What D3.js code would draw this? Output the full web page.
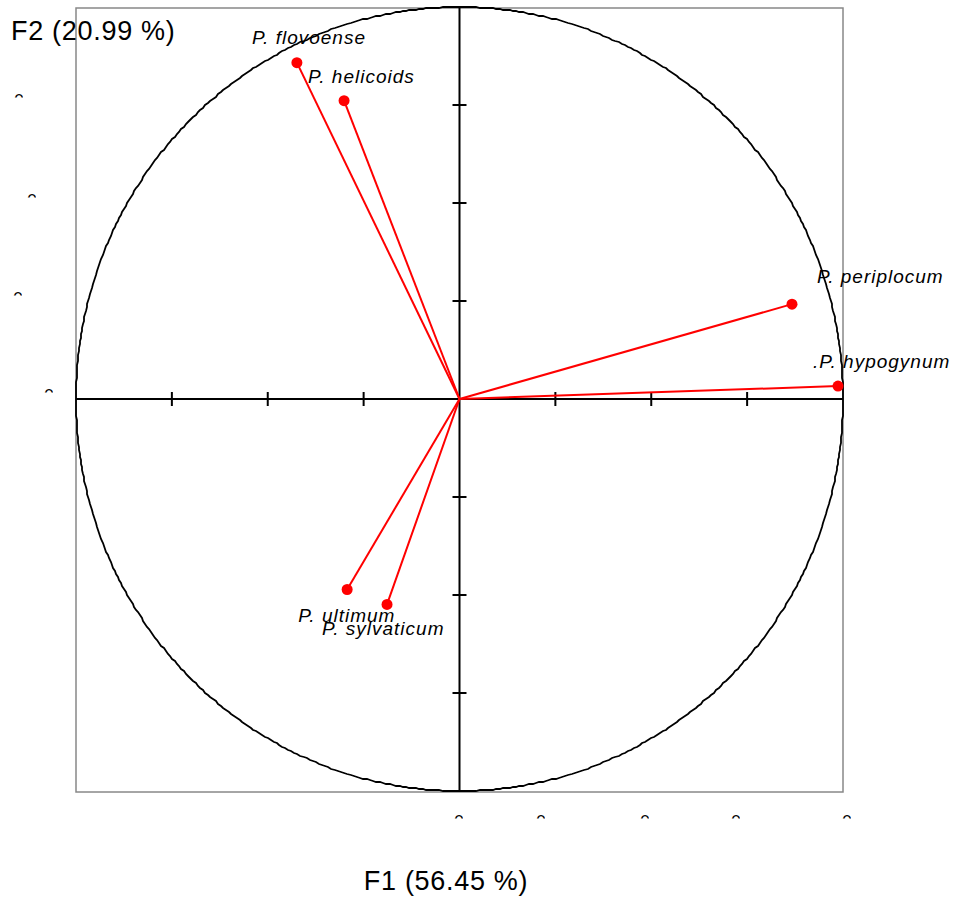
<!DOCTYPE html>
<html><head><meta charset="utf-8">
<script src="https://cdn.jsdelivr.net/npm/d3@7/dist/d3.min.js"></script>
<style>body{margin:0;background:#fff}svg{display:block}</style>
</head><body>
<script>
// Data
const species = ["P. flovoense", "P. helicoids", "P. periplocum", ".P. hypogynum", "P. ultimum", "P. sylvaticum"];
const f1 = [-0.424, -0.301, 0.867, 0.987, -0.293, -0.189];
const f2 = [0.858, 0.761, 0.242, 0.033, -0.486, -0.524];
const xTicks = [-0.75, -0.5, -0.25, 0.25, 0.5, 0.75];
const yTicks = [-0.75, -0.5, -0.25, 0.25, 0.5, 0.75];
const xTitle = "F1 (56.45 %)";
const yTitle = "F2 (20.99 %)";
// label offsets (layout)
const labelDx = [-45, -36, 25, -25, -49, -65];
const labelDy = [-19, -18, -21, -18, 32, 31];

const W = 955, H = 898;
const FONT = "Liberation Sans, Arial, sans-serif";
const svg = d3.select("body").append("svg").attr("width", W).attr("height", H);
const x = d3.scaleLinear().domain([-1, 1]).range([76, 843]);
const y = d3.scaleLinear().domain([-1, 1]).range([791, 7]);

// frame
svg.append("rect").attr("x", 76).attr("y", 8).attr("width", 767).attr("height", 784)
  .attr("fill", "none").attr("stroke", "#888").attr("stroke-width", 1.5);

// clipped tick label fragments
const defs = svg.append("defs");
const frags = [[15,97],[28,197],[14,295],[45,392],[455,818],[537,818],[641,818],[732,818],[843,818]];
frags.forEach((p, i) => {
  defs.append("clipPath").attr("id", "fc" + i).append("rect")
    .attr("x", p[0] - 1).attr("y", p[1] - 3).attr("width", 9).attr("height", 3.5);
  svg.append("text").attr("clip-path", `url(#fc${i})`)
    .attr("x", p[0] - 1).attr("y", p[1] + 10)
    .attr("font-family", FONT).attr("font-size", 18)
    .text("0");
});

// axes lines
svg.append("line").attr("x1", x(-1)).attr("x2", x(1)).attr("y1", y(0)).attr("y2", y(0))
  .attr("stroke", "#000").attr("stroke-width", 2);
svg.append("line").attr("x1", x(0)).attr("x2", x(0)).attr("y1", 8).attr("y2", 792)
  .attr("stroke", "#000").attr("stroke-width", 2);
svg.selectAll(".xt").data(xTicks).enter().append("line")
  .attr("x1", d => x(d)).attr("x2", d => x(d)).attr("y1", y(0) - 7).attr("y2", y(0) + 7)
  .attr("stroke", "#000").attr("stroke-width", 2);
svg.selectAll(".yt").data(yTicks).enter().append("line")
  .attr("y1", d => y(d)).attr("y2", d => y(d)).attr("x1", x(0) - 7).attr("x2", x(0) + 7)
  .attr("stroke", "#000").attr("stroke-width", 2);

// correlation circle (jagged)
const angles = d3.range(0, 721).map(i => i * Math.PI / 360);
const circ = d3.line().x(a => Math.round(x(Math.cos(a)))).y(a => Math.round(y(Math.sin(a))));
svg.append("path").attr("d", circ(angles)).attr("fill", "none")
  .attr("stroke", "#000").attr("stroke-width", 1.8);

// vectors
const idx = d3.range(species.length);
svg.selectAll(".vec").data(idx).enter().append("line")
  .attr("x1", x(0)).attr("y1", y(0)).attr("x2", i => x(f1[i])).attr("y2", i => y(f2[i]))
  .attr("stroke", "#ff0000").attr("stroke-width", 2);
svg.selectAll(".pt").data(idx).enter().append("circle")
  .attr("cx", i => x(f1[i])).attr("cy", i => y(f2[i])).attr("r", 5.5).attr("fill", "#ff0000");
svg.selectAll(".lab").data(idx).enter().append("text")
  .attr("x", i => x(f1[i]) + labelDx[i]).attr("y", i => y(f2[i]) + labelDy[i])
  .attr("font-family", FONT).attr("font-style", "italic")
  .attr("font-size", 19).attr("letter-spacing", 1).attr("fill", "#000").text(i => species[i]);

// titles
svg.append("text").attr("x", 446).attr("y", 890).attr("text-anchor", "middle")
  .attr("font-family", FONT).attr("font-size", 27).attr("letter-spacing", 0.7).text(xTitle);
svg.append("text").attr("x", 11).attr("y", 40)
  .attr("font-family", FONT).attr("font-size", 27).attr("letter-spacing", 0.7).text(yTitle);
</script>
</body></html>
